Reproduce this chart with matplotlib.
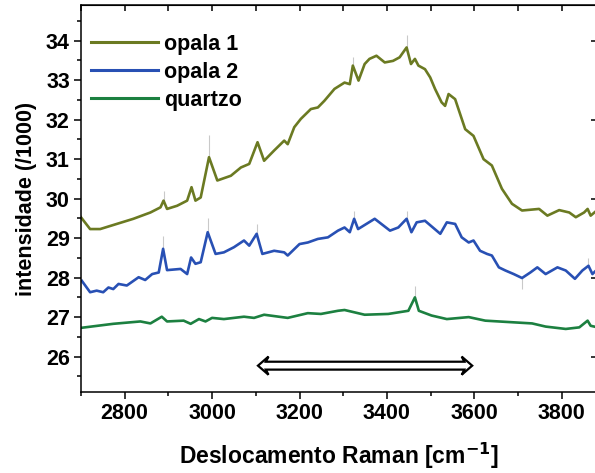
import numpy as np
import matplotlib
matplotlib.use("Agg")
import matplotlib.pyplot as plt
from matplotlib.patches import Polygon
from matplotlib.ticker import MultipleLocator

plt.rcParams["font.family"] = ["Liberation Sans", "DejaVu Sans"]
plt.rcParams["font.weight"] = "bold"

# --- data (Raman shift in cm^-1, intensity / 1000) ---
opala1_x = [2700, 2721, 2744, 2782, 2820, 2859, 2882, 2889, 2897, 2920, 2943, 2953,
            2962, 2974, 2993, 3012, 3043, 3066, 3085, 3104, 3119, 3142, 3165, 3173,
            3188, 3203, 3226, 3242, 3257, 3280, 3303, 3315, 3322, 3335, 3349, 3360,
            3376, 3395, 3414, 3429, 3445, 3455, 3464, 3472, 3487, 3499, 3510, 3525,
            3533, 3541, 3556, 3579, 3598, 3621, 3640, 3663, 3686, 3709, 3748, 3767,
            3794, 3817, 3832, 3851, 3859, 3866, 3880]
opala1_y = [29.53, 29.23, 29.23, 29.36, 29.49, 29.65, 29.78, 29.95, 29.74, 29.82, 29.95, 30.29,
            29.95, 30.03, 31.05, 30.46, 30.58, 30.79, 30.88, 31.43, 30.96, 31.22, 31.47, 31.38,
            31.81, 32.02, 32.27, 32.31, 32.48, 32.78, 32.94, 32.9, 33.37, 32.99, 33.41, 33.54,
            33.62, 33.45, 33.49, 33.58, 33.83, 33.41, 33.54, 33.37, 33.28, 33.07, 32.78, 32.44,
            32.35, 32.65, 32.52, 31.76, 31.59, 31.0, 30.84, 30.25, 29.87, 29.7, 29.74, 29.57,
            29.71, 29.65, 29.53, 29.65, 29.74, 29.57, 29.7]

opala2_x = [2702, 2721, 2736, 2751, 2763, 2774, 2786, 2805, 2832, 2847, 2863, 2878,
            2888, 2897, 2928, 2943, 2952, 2962, 2974, 2990, 3008, 3027, 3050, 3073,
            3085, 3102, 3115, 3142, 3165, 3173, 3200, 3219, 3242, 3265, 3288, 3303,
            3315, 3325, 3334, 3372, 3407, 3426, 3445, 3456, 3468, 3487, 3522, 3537,
            3556, 3571, 3587, 3598, 3613, 3629, 3640, 3656, 3671, 3690, 3709, 3728,
            3744, 3763, 3790, 3809, 3830, 3847, 3861, 3870, 3882]
opala2_y = [27.92, 27.63, 27.67, 27.63, 27.75, 27.71, 27.84, 27.8, 28.01, 27.94, 28.09, 28.13,
            28.73, 28.19, 28.22, 28.09, 28.51, 28.35, 28.39, 29.15, 28.6, 28.64, 28.77, 28.94,
            28.81, 29.11, 28.6, 28.68, 28.64, 28.56, 28.85, 28.89, 28.98, 29.02, 29.19, 29.27,
            29.15, 29.49, 29.23, 29.49, 29.19, 29.27, 29.49, 29.15, 29.4, 29.44, 29.11, 29.4,
            29.36, 29.02, 28.89, 28.94, 28.68, 28.6, 28.56, 28.26, 28.18, 28.09, 27.99, 28.13,
            28.26, 28.09, 28.26, 28.18, 27.97, 28.18, 28.3, 28.09, 28.22]

quartzo_x = [2702, 2774, 2836, 2859, 2885, 2897, 2935, 2951, 2970, 2985, 3000, 3027,
             3073, 3096, 3119, 3173, 3219, 3249, 3288, 3303, 3349, 3403, 3449, 3464,
             3473, 3502, 3537, 3587, 3625, 3686, 3732, 3763, 3809, 3840, 3859, 3866, 3882]
quartzo_y = [26.73, 26.83, 26.89, 26.84, 27.01, 26.89, 26.91, 26.83, 26.95, 26.89, 26.98, 26.95,
             27.01, 26.98, 27.06, 26.98, 27.1, 27.08, 27.16, 27.18, 27.06, 27.08, 27.16, 27.5,
             27.16, 27.04, 26.95, 27.0, 26.91, 26.87, 26.84, 26.76, 26.7, 26.74, 26.91, 26.78, 26.74]

# faint raw-data spikes visible behind the smoothed curves (x, bottom, top)
spike_x = [2889, 2993, 3322, 3445, 2888, 2990, 3102, 3325, 3445, 3464, 3709, 3861]
spike_lo = [29.95, 31.05, 33.37, 33.83, 28.73, 29.15, 29.11, 29.49, 29.49, 27.5, 27.99, 28.3]
spike_hi = [30.2, 31.6, 33.6, 34.15, 29.05, 29.5, 29.35, 29.7, 29.7, 27.8, 27.7, 28.5]

series = [("opala 1", opala1_x, opala1_y, "#6b7a22"),
          ("opala 2", opala2_x, opala2_y, "#2850b4"),
          ("quartzo", quartzo_x, quartzo_y, "#1c8040")]

# double arrow marking the OH band region
arrow_x0, arrow_x1, arrow_y = 3105, 3595, 25.77

fig = plt.figure(figsize=(5.95, 4.73), dpi=100)
ax = fig.add_axes([0.136, 0.171, 0.867, 0.818])

ax.vlines(spike_x, spike_lo, spike_hi, color="#c9c9c9", lw=0.8, zorder=1)
for name, x, y, c in series:
    ax.plot(x, y, color=c, lw=1.9, label=name, solid_joinstyle="round", zorder=2)

ax.set_xlim(2700, 3880)
ax.set_ylim(25.1, 34.9)
ax.xaxis.set_major_locator(MultipleLocator(200))
ax.xaxis.set_minor_locator(MultipleLocator(100))
ax.yaxis.set_major_locator(MultipleLocator(1))
ax.yaxis.set_minor_locator(MultipleLocator(0.5))
ax.tick_params(which="major", direction="out", length=5, width=1.1, labelsize=15.5, pad=3)
ax.tick_params(which="minor", direction="out", length=3, width=1.1)
for lab in ax.get_xticklabels() + ax.get_yticklabels():
    lab.set_fontweight("bold")
for s in ax.spines.values():
    s.set_linewidth(1.1)

top = ax.secondary_xaxis("top")
top.xaxis.set_major_locator(MultipleLocator(100))
top.tick_params(direction="in", length=4.5, width=1.1, labeltop=False)
right = ax.secondary_yaxis("right")
right.yaxis.set_major_locator(MultipleLocator(2))
right.tick_params(direction="in", length=4, width=1.1, labelright=False)

ax.set_xlabel("Deslocamento Raman [cm$^{\\mathbf{-1}}$]", fontsize=16.5, fontweight="bold", labelpad=12)
ax.set_ylabel("intensidade (/1000)", fontsize=15.5, fontweight="bold", labelpad=6)

leg = ax.legend(loc="upper left", bbox_to_anchor=(0.02, 0.926), frameon=False,
                fontsize=15.5, handlelength=3.1, handletextpad=0.3, labelspacing=0.32,
                borderaxespad=0, borderpad=0)
for t in leg.get_texts():
    t.set_fontweight("bold")
for h in leg.get_lines():
    h.set_linewidth(2.2)

# hollow double-headed arrow
hl, hh, sh = 24, 0.23, 0.1
verts = [(arrow_x0, arrow_y), (arrow_x0 + hl, arrow_y + hh), (arrow_x0 + hl * 0.75, arrow_y + sh),
         (arrow_x1 - hl * 0.75, arrow_y + sh), (arrow_x1 - hl, arrow_y + hh), (arrow_x1, arrow_y),
         (arrow_x1 - hl, arrow_y - hh), (arrow_x1 - hl * 0.75, arrow_y - sh),
         (arrow_x0 + hl * 0.75, arrow_y - sh), (arrow_x0 + hl, arrow_y - hh)]
ax.add_patch(Polygon(verts, closed=True, facecolor="white", edgecolor="black", lw=1.6,
                     joinstyle="miter"))

fig.savefig("out.png", dpi=100)
